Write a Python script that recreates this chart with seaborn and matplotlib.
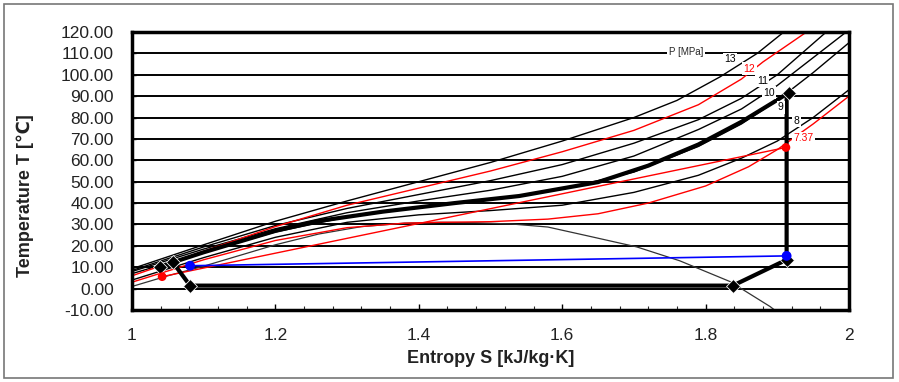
import matplotlib
matplotlib.use('agg')
import matplotlib.pyplot as plt
import matplotlib.patches as patches
import seaborn as sns

# entropy [kJ/kg.K] / temperature [C]
dome_s = [1.00, 1.05, 1.10, 1.15, 1.20, 1.26, 1.32, 1.38, 1.43, 1.48, 1.53, 1.58, 1.635, 1.704, 1.764, 1.834, 1.89, 1.90]
dome_t = [1.0, 6.0, 10.5, 15.5, 20.5, 25.5, 29.0, 30.6, 31.0, 30.8, 30.2, 28.8, 24.7, 19.5, 13.0, 3.3, -8.4, -11.0]

iso_s = {
    '7.37': [1.00, 1.10, 1.20, 1.30, 1.38, 1.43, 1.50, 1.58, 1.65, 1.72, 1.80, 1.86, 1.90, 1.95, 2.00],
    '8':    [1.00, 1.10, 1.20, 1.30, 1.40, 1.50, 1.60, 1.70, 1.79, 1.85, 1.90, 1.95, 2.00],
    '9':    [1.00, 1.10, 1.20, 1.30, 1.40, 1.50, 1.60, 1.70, 1.79, 1.85, 1.90, 1.95, 2.00],
    '10':   [1.00, 1.10, 1.20, 1.30, 1.40, 1.50, 1.60, 1.70, 1.79, 1.85, 1.90, 1.95, 2.00],
    '11':   [1.00, 1.10, 1.20, 1.30, 1.40, 1.50, 1.60, 1.70, 1.79, 1.85, 1.90, 1.97],
    '12':   [1.00, 1.10, 1.20, 1.30, 1.40, 1.50, 1.60, 1.70, 1.79, 1.85, 1.88, 1.943],
    '13':   [1.00, 1.10, 1.20, 1.30, 1.40, 1.50, 1.60, 1.70, 1.76, 1.82, 1.872, 1.911],
}
iso_t = {
    '7.37': [3.0, 13.5, 22.5, 28.5, 30.6, 31.0, 31.3, 32.5, 35.0, 40.0, 48.0, 57.0, 65.0, 77.0, 90.0],
    '8':    [4.0, 14.5, 24.0, 31.0, 34.5, 36.5, 39.0, 45.0, 53.0, 61.0, 69.0, 80.0, 93.0],
    '9':    [7.0, 17.0, 26.5, 33.5, 38.0, 41.5, 46.5, 54.5, 66.5, 77.0, 88.0, 101.0, 115.0],
    '10':   [8.0, 18.5, 28.0, 35.5, 41.0, 46.0, 52.5, 62.0, 74.4, 84.0, 95.0, 108.0, 121.0],
    '11':   [8.5, 19.5, 29.5, 37.5, 44.0, 50.5, 58.0, 68.0, 79.0, 89.0, 100.0, 120.5],
    '12':   [6.0, 17.5, 29.0, 39.0, 47.0, 55.0, 64.0, 74.0, 86.0, 98.0, 106.0, 120.5],
    '13':   [9.3, 20.5, 31.5, 41.0, 50.0, 59.0, 69.0, 80.0, 88.0, 99.0, 110.0, 120.5],
}
iso_label_pos = {
    '13': (1.834, 107.4), '12': (1.861, 102.8), '11': (1.879, 97.2), '10': (1.888, 91.6),
    '9': (1.905, 84.7), '8': (1.927, 78.6), '7.37': (1.937, 70.2),
}
red_isobars = ['7.37', '12']

# cycle (thick black)
gc_s = [1.913, 1.894, 1.85, 1.79, 1.72, 1.65, 1.54, 1.45, 1.35, 1.26, 1.20, 1.10, 1.057, 1.039]
gc_t = [91.0, 87.0, 78.0, 67.4, 57.5, 49.8, 43.3, 40.0, 36.0, 31.6, 27.0, 17.0, 12.3, 10.3]
loop_s = [1.057, 1.081, 1.838, 1.913, 1.913]
loop_t = [12.3, 1.4, 1.4, 13.5, 91.0]
mark_s = [1.916, 1.039, 1.057, 1.081, 1.838, 1.913]
mark_t = [91.5, 10.3, 12.3, 1.4, 1.4, 13.5]

red_s = [1.042, 1.912]
red_t = [5.6, 66.0]
blue_s = [1.081, 1.913]
blue_t = [10.7, 15.3]

sns.set_theme(style='white')
plt.rcParams['font.family'] = ['Liberation Sans', 'DejaVu Sans']

fig = plt.figure(figsize=(8.99, 3.82), dpi=100)
W, H = 899, 382
ax = fig.add_axes([132 / W, 1 - 310 / H, (849 - 132) / W, (310 - 32) / H])
fig.patches.append(patches.Rectangle((4 / W, 4 / H), 889 / W, 374 / H, transform=fig.transFigure,
                                     fill=False, ec='#777777', lw=1.2))

sns.lineplot(x=dome_s, y=dome_t, ax=ax, color='#333333', lw=0.9, sort=False, estimator=None)
for p in iso_s:
    c = 'red' if p in red_isobars else 'black'
    sns.lineplot(x=iso_s[p], y=iso_t[p], ax=ax, color=c, lw=1.0, sort=False, estimator=None)

sns.lineplot(x=red_s, y=red_t, ax=ax, color='red', lw=1.0, sort=False, estimator=None)
sns.lineplot(x=blue_s, y=blue_t, ax=ax, color='blue', lw=1.2, sort=False, estimator=None)
sns.lineplot(x=gc_s, y=gc_t, ax=ax, color='black', lw=3.0, sort=False, estimator=None)
sns.lineplot(x=loop_s, y=loop_t, ax=ax, color='black', lw=3.0, sort=False, estimator=None)
sns.scatterplot(x=mark_s, y=mark_t, ax=ax, color='black', marker='D', s=50, zorder=5)
sns.scatterplot(x=red_s, y=red_t, ax=ax, color='red', marker='o', s=40, zorder=5, edgecolor='none')
sns.scatterplot(x=blue_s, y=blue_t, ax=ax, color='blue', marker='o', s=50, zorder=6, edgecolor='none')

box = dict(fc='white', ec='none', pad=1.0)
ax.text(1.7727, 110.7, 'P [MPa]', fontsize=7, ha='center', va='center', bbox=box, zorder=7)
for p, (xs, yt) in iso_label_pos.items():
    c = 'red' if p in red_isobars else 'black'
    ax.text(xs, yt, p, fontsize=7.5, color=c, ha='center', va='center', bbox=box, zorder=7)

ax.set_xlim(1, 2)
ax.set_ylim(-10, 120)
ax.set_xticks([1, 1.2, 1.4, 1.6, 1.8, 2])
ax.set_xticklabels(['1', '1.2', '1.4', '1.6', '1.8', '2'])
ax.set_xticks([1 + 0.04 * i for i in range(26)], minor=True)
ax.set_yticks(range(-10, 121, 10))
ax.set_yticklabels(['%.2f' % v for v in range(-10, 121, 10)])
ax.grid(axis='y', color='black', lw=1.4)
ax.grid(axis='x', visible=False)
ax.tick_params(axis='both', labelsize=12.5, colors='black', labelcolor='#222222')
ax.tick_params(axis='x', which='major', direction='in', length=4, width=1, bottom=True, pad=13)
ax.tick_params(axis='x', which='minor', direction='in', length=3, width=0.8, bottom=True)
ax.tick_params(axis='y', direction='in', length=3, width=1, left=True, pad=13)
for sp in ax.spines.values():
    sp.set_color('black')
    sp.set_linewidth(2.5)

ax.set_xlabel('Entropy S [kJ/kg·K]', fontsize=13, fontweight='bold', color='#222222', labelpad=5)
ax.set_ylabel('Temperature T [℃]', fontsize=13, fontweight='bold', color='#222222')
ax.yaxis.set_label_coords(-0.137, 0.41)

fig.savefig('out.png', dpi=100)
